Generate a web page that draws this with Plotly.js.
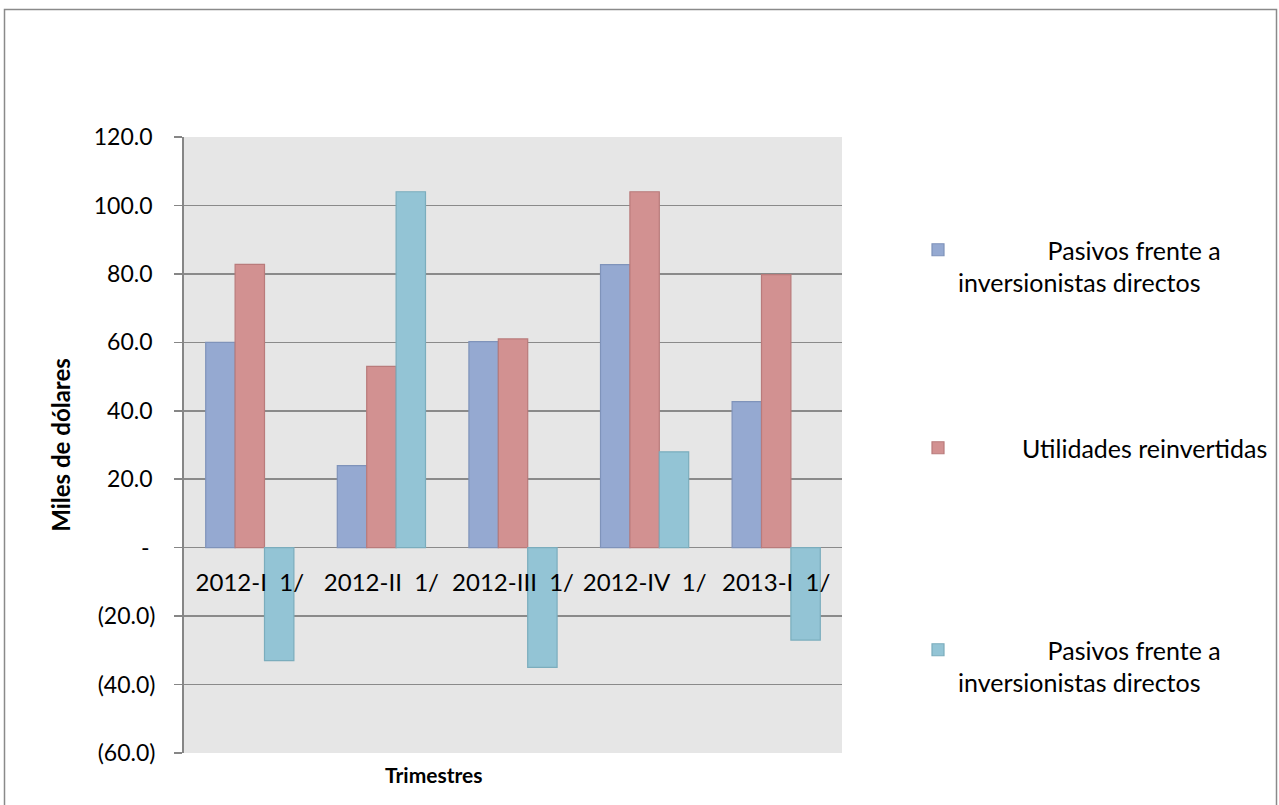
<!DOCTYPE html>
<html>
<head>
<meta charset="utf-8">
<script src="https://cdn.plot.ly/plotly-3.0.1.min.js"></script>
<style>
html,body{margin:0;padding:0;background:#fff;}
#chart{width:1279px;height:805px;}
</style>
</head>
<body>
<div id="chart"></div>
<script>
// ---- data ----
const categories = ["2012-I\u00a0\u00a01/", "2012-II\u00a0\u00a01/", "2012-III\u00a0\u00a01/", "2012-IV\u00a0\u00a01/", "2013-I\u00a0\u00a01/"];
const seriesNames = [
  "\u00a0".repeat(14) + "Pasivos frente a<br>inversionistas directos",
  "\u00a0".repeat(10) + "Utilidades reinvertidas",
  "\u00a0".repeat(14) + "Pasivos frente a<br>inversionistas directos"
];
const pasivos1 = [60.0, 24.0, 60.2, 82.7, 42.7];
const utilidades = [82.8, 53.0, 61.0, 104.0, 79.8];
const pasivos2 = [-33.0, 104.0, -35.0, 28.0, -27.0];
const yTickVals = [-60, -40, -20, 0, 20, 40, 60, 80, 100, 120];
const yTickText = ["(60.0)", "(40.0)", "(20.0)", "-\u00a0", "20.0\u2009", "40.0\u2009", "60.0\u2009", "80.0\u2009", "100.0\u2009", "120.0\u2009"];
const yTitle = "Miles de dólares";
const xTitle = "Trimestres";

// ---- chart ----
const FONT = "Lato, 'Open Sans', sans-serif";
const fills = ["#95a9d1", "#d29191", "#93c4d5"];
const edges = ["#7f93ba", "#b97b7b", "#7badbd"];
const seriesVals = [pasivos1, utilidades, pasivos2];
const legendIds = ["legend", "legend2", "legend3"];

const traces = seriesVals.map((vals, i) => ({
  type: "bar",
  x: categories,
  y: vals,
  name: seriesNames[i],
  legend: legendIds[i],
  marker: {color: fills[i], line: {color: edges[i], width: 1.2}},
  hoverinfo: "x+y"
}));

const L = 184, R = 842, T = 137, B = 753;
const W = 1279, H = 805;
const px = v => (v - L) / (R - L);
const py = v => (B - v) / (B - T);
const cx = v => v / W;
const cy = v => (H - v) / H;

const legendBase = {
  xref: "container", yref: "container",
  xanchor: "left", yanchor: "top", valign: "top",
  bgcolor: "rgba(0,0,0,0)", borderwidth: 0,
  font: {family: FONT, size: 25, color: "#000"},
  itemclick: false, itemdoubleclick: false
};

const layout = {
  width: W, height: H,
  margin: {l: L, r: W - R, t: T, b: H - B, pad: 0, autoexpand: false},
  paper_bgcolor: "#ffffff",
  plot_bgcolor: "#e6e6e6",
  barmode: "group",
  bargap: 0.33,
  bargroupgap: 0,
  font: {family: FONT, size: 23, color: "#000"},
  xaxis: {
    type: "category",
    anchor: "free",
    position: 60 / 180,
    showline: false,
    showgrid: false,
    zeroline: false,
    ticks: "",
    ticklabelstandoff: 18,
    tickfont: {family: FONT, size: 24, color: "#000"},
    fixedrange: true
  },
  yaxis: {
    range: [-60, 120],
    tickvals: yTickVals,
    ticktext: yTickText,
    showgrid: true,
    gridcolor: "#8a8a8a",
    gridwidth: 1.6,
    zeroline: true,
    zerolinecolor: "#8a8a8a",
    zerolinewidth: 1.6,
    showline: true,
    linecolor: "#868686",
    linewidth: 2,
    ticks: "outside",
    ticklen: 8,
    tickwidth: 1.6,
    tickcolor: "#868686",
    ticklabelstandoff: 14,
    tickfont: {family: FONT, size: 23, color: "#000"},
    title: {text: "<b>" + yTitle + "</b>", font: {family: FONT, size: 24, color: "#000"}, standoff: 16},
    fixedrange: true
  },
  showlegend: true,
  legend: Object.assign({}, legendBase, {x: cx(918), y: cy(227)}),
  legend2: Object.assign({}, legendBase, {x: cx(918), y: cy(425)}),
  legend3: Object.assign({}, legendBase, {x: cx(918), y: cy(627)}),
  annotations: [{
    text: "<b>" + xTitle + "</b>",
    xref: "paper", yref: "paper",
    x: px(433), y: py(774),
    xanchor: "center", yanchor: "middle",
    showarrow: false,
    font: {family: FONT, size: 21, color: "#000"}
  }],
  shapes: [{
    type: "rect", xref: "paper", yref: "paper",
    x0: px(4.5), x1: px(1276.5), y0: py(830), y1: py(9.5),
    line: {color: "#8a8a8a", width: 1.5},
    fillcolor: "rgba(0,0,0,0)",
    layer: "below"
  }]
};

Plotly.newPlot("chart", traces, layout, {displayModeBar: false, staticPlot: true});
</script>
</body>
</html>
